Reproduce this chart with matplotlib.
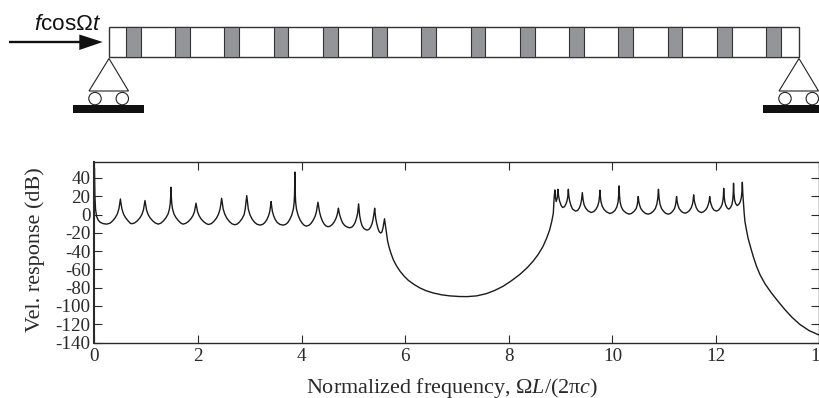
import matplotlib
matplotlib.use("Agg")
import matplotlib.pyplot as plt
from matplotlib.patches import Rectangle, Polygon, Circle

plt.rcParams.update({
    'font.family': 'Liberation Serif',
    'mathtext.fontset': 'custom',
    'mathtext.rm': 'Liberation Serif',
    'mathtext.it': 'Liberation Serif:italic',
    'mathtext.sf': 'Liberation Sans',
    'mathtext.bf': 'Liberation Sans:italic',
})

# --- data ---
freq_pass1 = [0, .008, .02, .04, .07, .11, .17, .235,
    .30, .35, .40, .44, .47, .485, .50, .515, .53, .56, .60, .65, .69, .72,
    .775, .825, .875, .915, .945, .96, .975, .99, 1.005, 1.035, 1.075, 1.125, 1.175, 1.23,
    1.28, 1.33, 1.38, 1.42, 1.447, 1.462, 1.47, 1.477, 1.484, 1.492, 1.507, 1.535, 1.575, 1.625, 1.67, 1.71,
    1.76, 1.81, 1.86, 1.90, 1.93, 1.945, 1.96, 1.975, 1.99, 2.02, 2.06, 2.11, 2.16, 2.2,
    2.255, 2.305, 2.355, 2.395, 2.425, 2.44, 2.455, 2.47, 2.485, 2.515, 2.555, 2.605, 2.655, 2.71,
    2.76, 2.80, 2.85, 2.89, 2.91, 2.925, 2.94, 2.955, 2.97, 3.0, 3.04, 3.09, 3.14, 3.2,
    3.25, 3.29, 3.33, 3.36, 3.385, 3.398, 3.41, 3.422, 3.435, 3.46, 3.49, 3.53, 3.58, 3.645,
    3.69, 3.73, 3.77, 3.81, 3.84, 3.855, 3.863, 3.87, 3.877, 3.885, 3.90, 3.93, 3.97, 4.01, 4.05, 4.09,
    4.14, 4.18, 4.22, 4.26, 4.285, 4.30, 4.315, 4.33, 4.345, 4.37, 4.40, 4.435, 4.47, 4.51,
    4.55, 4.59, 4.63, 4.665, 4.685, 4.698, 4.71, 4.722, 4.735, 4.76, 4.79, 4.83, 4.88, 4.93,
    4.97, 5.0, 5.03, 5.06, 5.08, 5.09, 5.10, 5.11, 5.12, 5.14, 5.165, 5.2, 5.235, 5.27,
    5.30, 5.33, 5.36, 5.38, 5.395, 5.402, 5.41, 5.418, 5.43, 5.45, 5.475, 5.50, 5.53,
    5.55, 5.57, 5.585, 5.60]
db_pass1 = [50, 20, 6, -2, -6, -8.5, -10, -10.5,
    -9.5, -7, -3.5, .5, 6, 11, 17, 11, 6, .5, -3.5, -7, -9.5, -10.1,
    -9.2, -7, -3.8, 0, 5, 10, 15.3, 10, 5, 0, -3.8, -7, -9.3, -10.5,
    -9.5, -7, -3.5, .5, 6, 12, 19, 29.8, 19, 12, 6, .5, -3.5, -7, -9.5, -10.5,
    -9.7, -7.8, -4.8, -1.3, 3, 7.5, 12.4, 7.5, 3, -1.3, -5, -8, -10, -10.9,
    -10, -7.5, -4, .5, 6, 11.5, 17.8, 11.5, 6, .5, -4, -7.7, -10.2, -11.2,
    -10.3, -8.2, -4.5, 0, 6, 13, 20.7, 13, 6, 0, -4.7, -8.5, -10.7, -11.6,
    -10.7, -8.8, -5.5, -1.5, 3.5, 8.5, 14.2, 8.5, 3.5, -1.5, -5.5, -8.8, -10.8, -11.6,
    -10.8, -9, -5.5, -.5, 6, 13, 22, 46.5, 22, 13, 6, -.5, -6, -9.5, -11.8, -12.7,
    -11.8, -9.8, -6.5, -2, 3, 8, 13.5, 8, 3, -2.5, -7, -10.5, -12.5, -13.4,
    -12.7, -11, -8, -4, -.5, 3, 6.9, 3, -.5, -5, -9, -12, -13.8, -14.5,
    -13.7, -12, -9, -4, 1, 6, 11.7, 5, -1, -7, -12, -15.2, -16.5, -17,
    -16.2, -14, -10, -5, 0, 3, 6.9, 2, -4, -10, -15.5, -19, -20.3,
    -19, -15, -10, -4.7]

freq_gap = [5.615, 5.63, 5.64, 5.66, 5.685, 5.725, 5.77, 5.83, 5.90, 5.98, 6.06,
            6.17, 6.28, 6.40, 6.54, 6.7, 6.86, 7.05, 7.2, 7.38, 7.57, 7.73, 7.89,
            8.05, 8.21, 8.35, 8.47, 8.57, 8.66, 8.73, 8.79, 8.83, 8.86]
db_gap = [-11, -18, -22, -29, -35, -42.5, -49.4, -56, -62, -67.5, -72,
          -76.5, -80.2, -83.3, -85.8, -87.8, -89, -89.7, -89.8, -89, -86.5, -83, -78.5,
          -72.5, -65.7, -58.5, -51, -43.5, -35, -26, -16.7, -7.5, 1.5]

freq_pass2 = [8.875, 8.89, 8.90, 8.915, 8.935, 8.95, 8.96, 8.98, 9.01, 9.04,
    9.075, 9.10, 9.125, 9.14, 9.15, 9.16, 9.175, 9.2, 9.23, 9.29,
    9.33, 9.36, 9.385, 9.405, 9.42, 9.435, 9.455, 9.485, 9.53, 9.59,
    9.64, 9.68, 9.715, 9.74, 9.752, 9.76, 9.768, 9.78, 9.805, 9.84, 9.89, 9.95,
    10.0, 10.05, 10.085, 10.11, 10.122, 10.13, 10.138, 10.15, 10.175, 10.21, 10.26, 10.32,
    10.37, 10.42, 10.46, 10.48, 10.49, 10.50, 10.51, 10.525, 10.55, 10.59, 10.64, 10.69,
    10.74, 10.79, 10.83, 10.86, 10.878, 10.89, 10.902, 10.92, 10.95, 10.99, 11.03, 11.08,
    11.12, 11.16, 11.2, 11.22, 11.23, 11.24, 11.25, 11.265, 11.29, 11.33, 11.37, 11.41,
    11.45, 11.49, 11.525, 11.55, 11.56, 11.57, 11.58, 11.595, 11.62, 11.65, 11.68, 11.72,
    11.76, 11.8, 11.83, 11.855, 11.87, 11.88, 11.89, 11.905, 11.93, 11.96, 12.01,
    12.05, 12.09, 12.12, 12.135, 12.145, 12.15, 12.157, 12.17, 12.19, 12.22, 12.25,
    12.28, 12.31, 12.325, 12.335, 12.34, 12.347, 12.36, 12.38, 12.41,
    12.44, 12.47, 12.49, 12.502, 12.51]
db_pass2 = [18, 26.9, 19, 14.2, 18, 27.6, 21, 15, 10, 7.7,
    8.5, 11, 15, 20, 27.6, 20, 15, 10, 6, 3.7,
    4.5, 7, 10.5, 16, 24, 16, 10.5, 7, 4, 2.2,
    3.2, 5.5, 9, 14, 20, 26.6, 20, 14, 9, 5.5, 2.8, 1.1,
    2, 4.5, 8, 13.5, 21, 31.3, 21, 13.5, 8, 4.5, 2, .4,
    1.2, 3.5, 6.5, 10.5, 14.5, 19.7, 14.5, 10.5, 6.5, 3.5, 1.2, .4,
    1.3, 3.5, 6.5, 11.5, 18, 27.6, 18, 11.5, 6.5, 3.5, 1.3, .4,
    1.2, 3.2, 6.5, 10.5, 14.5, 19.7, 14.5, 10.5, 6.5, 3.5, 2, 1.5,
    2.5, 4.5, 7.5, 12, 16, 21.5, 16, 12, 7.5, 4.5, 3, 2.2,
    3, 5, 7.5, 11.5, 15, 19.7, 15, 11.5, 7.5, 5, 3.7,
    4.8, 7.5, 11, 15.5, 21, 28.7, 21, 14.5, 10, 7, 5.9,
    7.5, 11, 16, 24, 34.2, 24, 16, 12, 9.8,
    11, 14, 18.5, 25, 35.3]

freq_tail = [12.52, 12.53, 12.535, 12.545, 12.56, 12.59, 12.62, 12.67, 12.72, 12.78, 12.85,
             12.95, 13.07, 13.2, 13.33, 13.47, 13.62, 13.8, 14]
db_tail = [22, 15, 10, 2, -7.6, -17, -25.7, -36, -45.8, -56, -65.7,
           -76, -85.7, -95, -103.9, -112.5, -120.2, -127, -132]

x_ticks = [0, 2, 4, 6, 8, 10, 12, 14]
y_ticks = [40, 20, 0, -20, -40, -60, -80, -100, -120, -140]
y_labels = ['40', '20', '0', '-20', '-40', '-60', '-80', '-100', '-120', '-140']
x_title = r'Normalized frequency, $\mathrm{\Omega}L/(2\mathrm{\pi}c)$'
y_title = 'Vel. response (dB)'
force_label = r'$\mathbf{f}\mathsf{cos\Omega}\mathbf{t}$'
n_cells = 14

W, H = 820, 398
DARK = '#2a2a2a'
fig = plt.figure(figsize=(W / 100, H / 100), dpi=100, facecolor='white')

# --- response plot ---
ax = fig.add_axes([94.5 / W, (H - 342.5) / H, 725 / W, 181 / H])
ax.plot(freq_pass1 + freq_gap + freq_pass2 + freq_tail,
        db_pass1 + db_gap + db_pass2 + db_tail,
        color='#1a1a1a', lw=1.0, solid_joinstyle='round')
ax.set_xlim(0, 14)
ax.set_ylim(-140, 58)
ax.set_xticks(x_ticks)
ax.set_yticks(y_ticks)
ax.set_yticklabels(y_labels)
ax.tick_params(direction='in', top=True, right=True, length=5.8, width=0.8,
               color=DARK, labelsize=13.7, labelcolor=DARK)
ax.tick_params(axis='x', pad=4)
ax.tick_params(axis='y', pad=3)
for s in ax.spines.values():
    s.set_linewidth(1.0)
    s.set_color(DARK)
ax.spines['left'].set_linewidth(1.5)
ax.patch.set_alpha(0)

# --- beam schematic in pixel coordinates ---
ov = fig.add_axes([0, 0, 1, 1], zorder=-1)
ov.set_xlim(0, W)
ov.set_ylim(H, 0)
ov.axis('off')
ov.add_patch(Rectangle((109, 26.7), 690.3, 30.6, fc='white', ec='#333333', lw=1.0))
for i in range(n_cells):
    ov.add_patch(Rectangle((126 + 49.25 * i, 26.7), 14.6, 30.6,
                           fc='#939598', ec='#333333', lw=0.8))


def support(cx, base_l, base_r):
    ov.add_patch(Polygon([(cx, 58.5), (cx - 20, 91), (cx + 19.5, 91)], closed=True,
                         fc='white', ec='#222222', lw=0.8))
    ov.add_patch(Circle((cx - 14, 98.6), 6.2, fc='white', ec='#222222', lw=0.8))
    ov.add_patch(Circle((cx + 13.3, 98.6), 6.2, fc='white', ec='#222222', lw=0.8))
    ov.add_patch(Rectangle((base_l, 105), base_r - base_l, 8, fc='#111111', ec='none'))


support(109, 73.3, 143.7)
support(799, 763.3, 821)

ov.plot([9, 81], [42, 42], color='#111111', lw=1.7, solid_capstyle='butt')
ov.add_patch(Polygon([(79.3, 34.5), (102.7, 42), (79.3, 50)], closed=True,
                     fc='#111111', ec='none'))
ov.text(34.5, 29.5, force_label, fontsize=16.2, color='#111111', ha='left', va='baseline')

fig.text(452.5 / W, (H - 392.5) / H, x_title, fontsize=15.9, color=DARK,
         ha='center', va='baseline')
fig.text(45 / W, (H - 250) / H, y_title, fontsize=16, color=DARK,
         rotation=90, ha='right', va='center')

fig.savefig('out.png', dpi=100)
